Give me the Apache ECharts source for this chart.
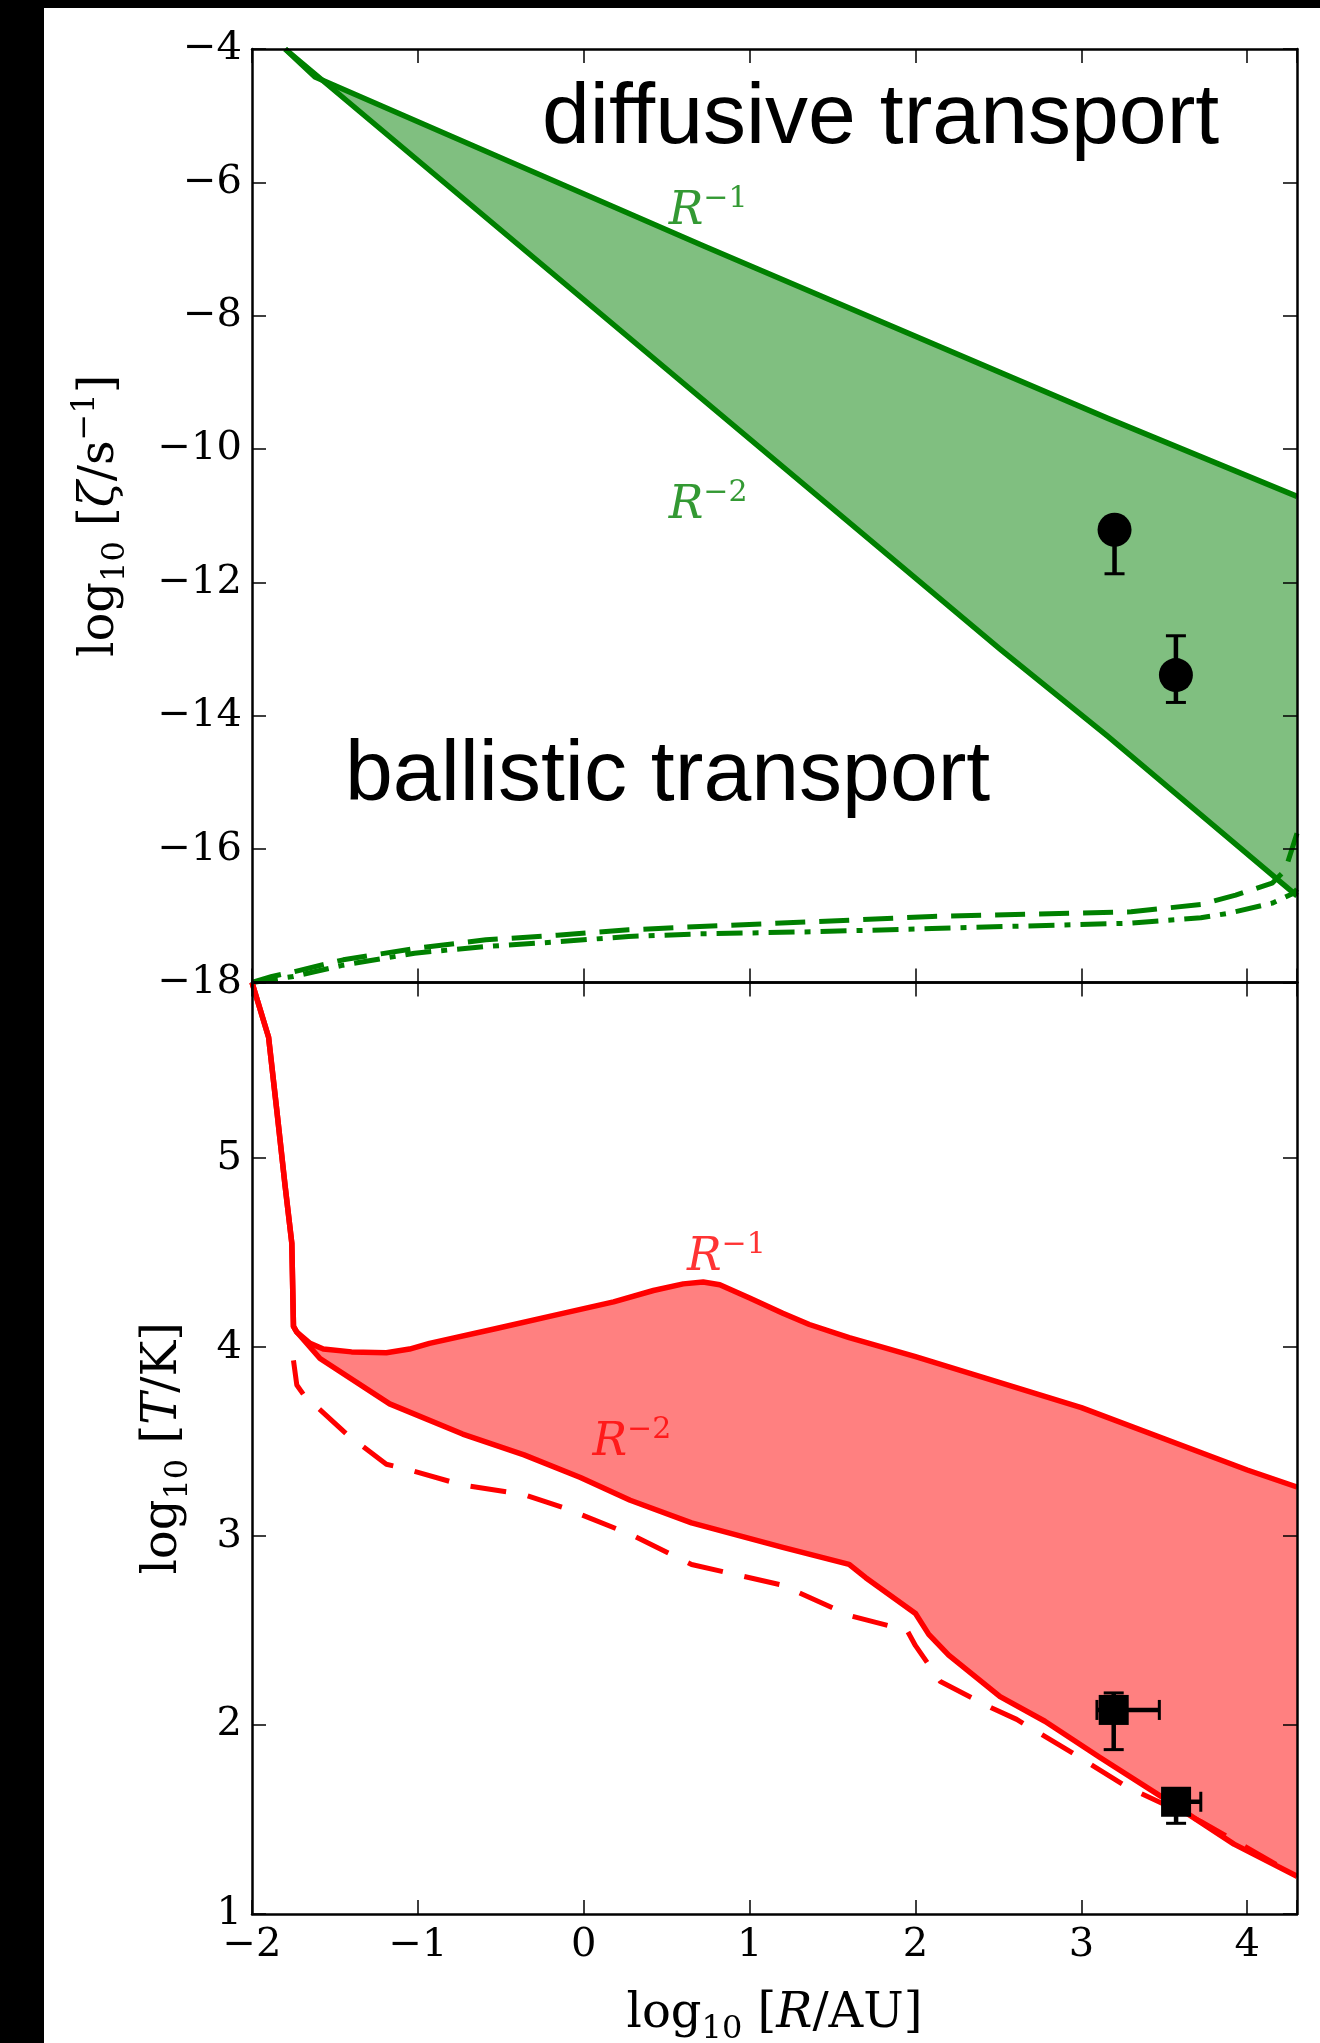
<!DOCTYPE html>
<html><head><meta charset="utf-8">
<script src="https://cdn.jsdelivr.net/npm/echarts/dist/echarts.min.js"></script>
<style>
html,body{margin:0;padding:0;background:#000;width:1320px;height:2043px;overflow:hidden}
#paper{position:absolute;left:44px;top:8px;right:0;bottom:0;background:#fff}
#chart{position:absolute;left:0;top:0;width:1320px;height:2043px}
</style></head>
<body><div id="paper"></div><div id="chart"></div>
<script>
// ---------------- data ----------------
const xTickValues = [-2, -1, 0, 1, 2, 3, 4];
const zetaTickValues = [-18, -16, -14, -12, -10, -8, -6, -4];
const tempTickValues = [1, 2, 3, 4, 5];

// top panel: log10 zeta
const zetaR1 = [[-1.80,-4.00],[-1.62,-4.42],[0.72,-6.95],[3.16,-9.54],[4.30,-10.71]];
const zetaR2 = [[-1.80,-4.00],[2.51,-13.00],[3.16,-14.31],[4.30,-16.70]];
const zetaDashed = [[-2.00,-18.00],[-1.88,-17.91],[-1.75,-17.84],[-1.45,-17.66],[-1.02,-17.49],[-0.59,-17.36],[-0.16,-17.29],[0.27,-17.21],[0.70,-17.16],[1.37,-17.09],[2.10,-17.01],[3.30,-16.94],[3.72,-16.83],[3.93,-16.69],[4.15,-16.51],[4.23,-16.31],[4.30,-15.76]];
const zetaDashDot = [[-2.00,-18.00],[-1.75,-17.91],[-1.45,-17.74],[-1.02,-17.56],[-0.59,-17.46],[-0.16,-17.39],[0.27,-17.31],[0.70,-17.27],[1.37,-17.24],[2.10,-17.19],[3.30,-17.11],[3.72,-17.03],[3.89,-16.96],[4.15,-16.81],[4.28,-16.66],[4.30,-16.60]];
const zetaObsX = [3.20, 3.57];
const zetaObsY = [-11.21, -13.39];
const zetaObsYLo = [-11.87, -13.80];
const zetaObsYHi = [-11.21, -12.80];
const zetaLabelX = [0.75, 0.75];
const zetaLabelY = [-6.45, -10.85];
const zetaLabelExp = ['−1', '−2'];

// bottom panel: log10 T
const tempR1 = [[-2.00,5.93],[-1.90,5.64],[-1.85,5.25],[-1.80,4.85],[-1.76,4.55],[-1.75,4.11],[-1.73,4.08],[-1.65,4.02],[-1.57,3.99],[-1.40,3.975],[-1.19,3.97],[-1.05,3.99],[-0.93,4.02],[-0.52,4.10],[-0.12,4.18],[0.18,4.24],[0.42,4.30],[0.60,4.335],[0.72,4.345],[0.82,4.33],[1.00,4.26],[1.20,4.18],[1.36,4.12],[1.60,4.05],[2.00,3.95],[3.00,3.68],[4.00,3.35],[4.30,3.26]];
const tempR2 = [[-2.00,5.93],[-1.90,5.64],[-1.85,5.25],[-1.80,4.85],[-1.76,4.55],[-1.75,4.11],[-1.73,4.08],[-1.59,3.94],[-1.17,3.70],[-0.73,3.54],[-0.36,3.43],[-0.02,3.31],[0.28,3.19],[0.65,3.07],[1.20,2.94],[1.60,2.85],[1.70,2.78],[2.00,2.59],[2.08,2.48],[2.20,2.37],[2.51,2.15],[2.78,2.02],[3.11,1.83],[3.52,1.60],[3.92,1.37],[4.30,1.20]];
const tempDashed = [[-1.75,3.93],[-1.73,3.80],[-1.69,3.75],[-1.43,3.54],[-1.19,3.38],[-1.09,3.36],[-0.73,3.27],[-0.36,3.22],[-0.12,3.15],[0.28,3.01],[0.65,2.85],[1.20,2.74],[1.60,2.58],[1.95,2.50],[2.00,2.42],[2.15,2.23],[2.46,2.09],[2.61,2.03],[2.95,1.85],[3.28,1.67],[3.72,1.49],[4.30,1.20]];
const tempObsX = [3.195, 3.571];
const tempObsY = [2.08, 1.594];
const tempObsYLo = [1.87, 1.48];
const tempObsYHi = [2.17, 1.594];
const tempObsXLo = [3.094, 3.571];
const tempObsXHi = [3.47, 3.72];
const tempLabelX = [0.86, 0.29];
const tempLabelY = [4.47, 3.49];
const tempLabelExp = ['−1', '−2'];

// ---------------- styling ----------------
const GREEN = '#008000', GREEN_FILL = '#80bf80';
const RED = '#ff0000', RED_FILL = '#ff8080';
const SERIF = 'DejaVu Serif';

function fmtTick(v) {
  if (Math.abs(v - Math.round(v)) > 1e-6) return '';
  const r = Math.round(v);
  return r < 0 ? '−' + Math.abs(r) : String(r);
}
function axisCommon() {
  return {
    type: 'value', z: 10,
    axisLine: { show: true, onZero: false, lineStyle: { color: '#000', width: 2.5 } },
    axisTick: { show: true, inside: true, length: 14, lineStyle: { color: '#000', width: 1.5 } },
    splitLine: { show: false },
    axisLabel: { show: false }
  };
}
function xAxisDef(grid, pos, withLabels) {
  const a = Object.assign(axisCommon(), { gridIndex: grid, position: pos, min: -2, max: 4.3, interval: 1 });
  if (withLabels) {
    a.axisLabel = { show: true, margin: 12, formatter: fmtTick, fontFamily: SERIF, fontSize: 40, color: '#000' };
  }
  return a;
}
function yAxisDef(grid, pos, min, max, interval, withLabels) {
  const a = Object.assign(axisCommon(), { gridIndex: grid, position: pos, min: min, max: max, interval: interval });
  if (withLabels) {
    a.axisLabel = { show: true, margin: 10, formatter: fmtTick, fontFamily: SERIF, fontSize: 40, color: '#000' };
  }
  return a;
}
const nameRich = {
  n: { fontFamily: SERIF, fontSize: 48, lineHeight: 62, color: '#000' },
  i: { fontFamily: SERIF, fontStyle: 'italic', fontSize: 48, lineHeight: 62, color: '#000' },
  s: { fontFamily: SERIF, fontSize: 32, lineHeight: 32, verticalAlign: 'bottom', color: '#000' },
  p: { fontFamily: SERIF, fontSize: 32, lineHeight: 32, verticalAlign: 'top', color: '#000' }
};

function lineSeries(data, xi, yi, color, width, dash) {
  return {
    type: 'line', xAxisIndex: xi, yAxisIndex: yi, data: data, showSymbol: false, symbol: 'none',
    smooth: false, silent: true, z: 4, clip: true,
    lineStyle: { color: color, width: width, type: dash || 'solid', cap: 'butt', join: 'round' }
  };
}
function bandSeries(upper, lower, xi, yi, fill) {
  return {
    type: 'custom', xAxisIndex: xi, yAxisIndex: yi, silent: true, z: 2, clip: true,
    data: [[upper[0][0], upper[0][1]]], encode: { x: 0, y: 1 },
    renderItem: function (params, api) {
      const pts = upper.map(p => api.coord(p)).concat(lower.slice().reverse().map(p => api.coord(p)));
      return { type: 'polygon', shape: { points: pts }, style: { fill: fill, stroke: null } };
    }
  };
}
function errorSeries(xi, yi, xs, ys, yLo, yHi, xLo, xHi) {
  const data = xs.map((x, i) => [x, ys[i], yLo[i], yHi[i], xLo ? xLo[i] : x, xHi ? xHi[i] : x]);
  return {
    type: 'custom', xAxisIndex: xi, yAxisIndex: yi, silent: true, z: 6, data: data,
    encode: { x: 0, y: 1 },
    renderItem: function (params, api) {
      const x = api.value(0), y = api.value(1);
      const c = api.coord([x, y]);
      const lo = api.coord([x, api.value(2)]), hi = api.coord([x, api.value(3)]);
      const l = api.coord([api.value(4), y]), r = api.coord([api.value(5), y]);
      const cap = 10, bar = { stroke: '#000', lineWidth: 4.5 }, cs = { stroke: '#000', lineWidth: 3 };
      const ch = [
        { type: 'line', shape: { x1: c[0], y1: lo[1], x2: c[0], y2: hi[1] }, style: bar },
        { type: 'line', shape: { x1: c[0] - cap, y1: lo[1], x2: c[0] + cap, y2: lo[1] }, style: cs },
        { type: 'line', shape: { x1: c[0] - cap, y1: hi[1], x2: c[0] + cap, y2: hi[1] }, style: cs },
        { type: 'line', shape: { x1: l[0], y1: c[1], x2: r[0], y2: c[1] }, style: bar },
        { type: 'line', shape: { x1: l[0], y1: c[1] - cap, x2: l[0], y2: c[1] + cap }, style: cs },
        { type: 'line', shape: { x1: r[0], y1: c[1] - cap, x2: r[0], y2: c[1] + cap }, style: cs }
      ];
      return { type: 'group', children: ch };
    }
  };
}
function markerSeries(xi, yi, xs, ys, symbol, size) {
  return {
    type: 'scatter', xAxisIndex: xi, yAxisIndex: yi, silent: true, z: 7,
    symbol: symbol, symbolSize: size, itemStyle: { color: '#000', opacity: 1 },
    data: xs.map((x, i) => [x, ys[i]])
  };
}
function labelSeries(xi, yi, xs, ys, exps, color) {
  return {
    type: 'scatter', xAxisIndex: xi, yAxisIndex: yi, silent: true, z: 8, symbolSize: 0,
    data: xs.map((x, i) => [x, ys[i]]),
    label: {
      show: true, position: 'inside',
      formatter: p => '{r|R}{e|' + exps[p.dataIndex] + '}',
      rich: {
        r: { fontFamily: SERIF, fontStyle: 'italic', fontSize: 46, lineHeight: 56, color: color },
        e: { fontFamily: SERIF, fontSize: 30, lineHeight: 30, verticalAlign: 'top', color: color }
      }
    }
  };
}

const chart = echarts.init(document.getElementById('chart'), null, { renderer: 'canvas', width: 1320, height: 2043 });
const option = {
  animation: false,
  backgroundColor: 'transparent',
  grid: [
    { left: 252, right: 23, top: 49, height: 933.5, containLabel: false, outerBoundsMode: 'none' },
    { left: 252, right: 23, top: 982.5, height: 931.5, containLabel: false, outerBoundsMode: 'none' }
  ],
  xAxis: [
    xAxisDef(0, 'bottom', false),
    xAxisDef(0, 'top', false),
    Object.assign(xAxisDef(1, 'bottom', true), {
      name: '{n|log}{s|10}{n| [}{i|R}{n|/AU]}', nameLocation: 'middle', nameGap: 70,
      nameTextStyle: { rich: nameRich }
    }),
    xAxisDef(1, 'top', false)
  ],
  yAxis: [
    Object.assign(yAxisDef(0, 'left', -18, -4, 2, true), {
      name: '{n|log}{s|10}{n| [}{i|ζ}{n|/s}{p|−1}{n|]}', nameLocation: 'middle', nameGap: 120,
      nameTextStyle: { rich: nameRich }
    }),
    yAxisDef(0, 'right', -18, -4, 2, false),
    Object.assign(yAxisDef(1, 'left', 1, 5.93, 1, true), {
      name: '{n|log}{s|10}{n| [}{i|T}{n|/K]}', nameLocation: 'middle', nameGap: 57,
      nameTextStyle: { rich: nameRich }
    }),
    yAxisDef(1, 'right', 1, 5.93, 1, false)
  ],
  series: [
    bandSeries(zetaR1, zetaR2, 0, 0, GREEN_FILL),
    lineSeries(zetaR1, 0, 0, GREEN, 5.5),
    lineSeries(zetaR2, 0, 0, GREEN, 5.5),
    lineSeries(zetaDashed, 0, 0, GREEN, 5, [30, 14]),
    lineSeries(zetaDashDot, 0, 0, GREEN, 5, [26, 10, 6, 10]),
    errorSeries(0, 0, zetaObsX, zetaObsY, zetaObsYLo, zetaObsYHi),
    markerSeries(0, 0, zetaObsX, zetaObsY, 'circle', 34),
    labelSeries(0, 0, zetaLabelX, zetaLabelY, zetaLabelExp, GREEN),

    bandSeries(tempR1.slice(6), tempR2.slice(6), 2, 2, RED_FILL),
    lineSeries(tempR1, 2, 2, RED, 5.5),
    lineSeries(tempR2, 2, 2, RED, 5.5),
    lineSeries(tempDashed, 2, 2, RED, 5, [36, 22]),
    errorSeries(2, 2, tempObsX, tempObsY, tempObsYLo, tempObsYHi, tempObsXLo, tempObsXHi),
    markerSeries(2, 2, tempObsX, tempObsY, 'rect', 30),
    labelSeries(2, 2, tempLabelX, tempLabelY, tempLabelExp, RED)
  ],
  graphic: [
    { type: 'text', x: 542, y: 119, z: 100, silent: true,
      style: { text: 'diffusive transport', fontFamily: 'Liberation Sans', fontSize: 86, fill: '#000',
               textAlign: 'left', verticalAlign: 'middle', textVerticalAlign: 'middle' } },
    { type: 'text', x: 345, y: 776, z: 100, silent: true,
      style: { text: 'ballistic transport', fontFamily: 'Liberation Sans', fontSize: 86, fill: '#000',
               textAlign: 'left', verticalAlign: 'middle', textVerticalAlign: 'middle' } }
  ]
};
chart.setOption(option);
</script>
</body></html>
